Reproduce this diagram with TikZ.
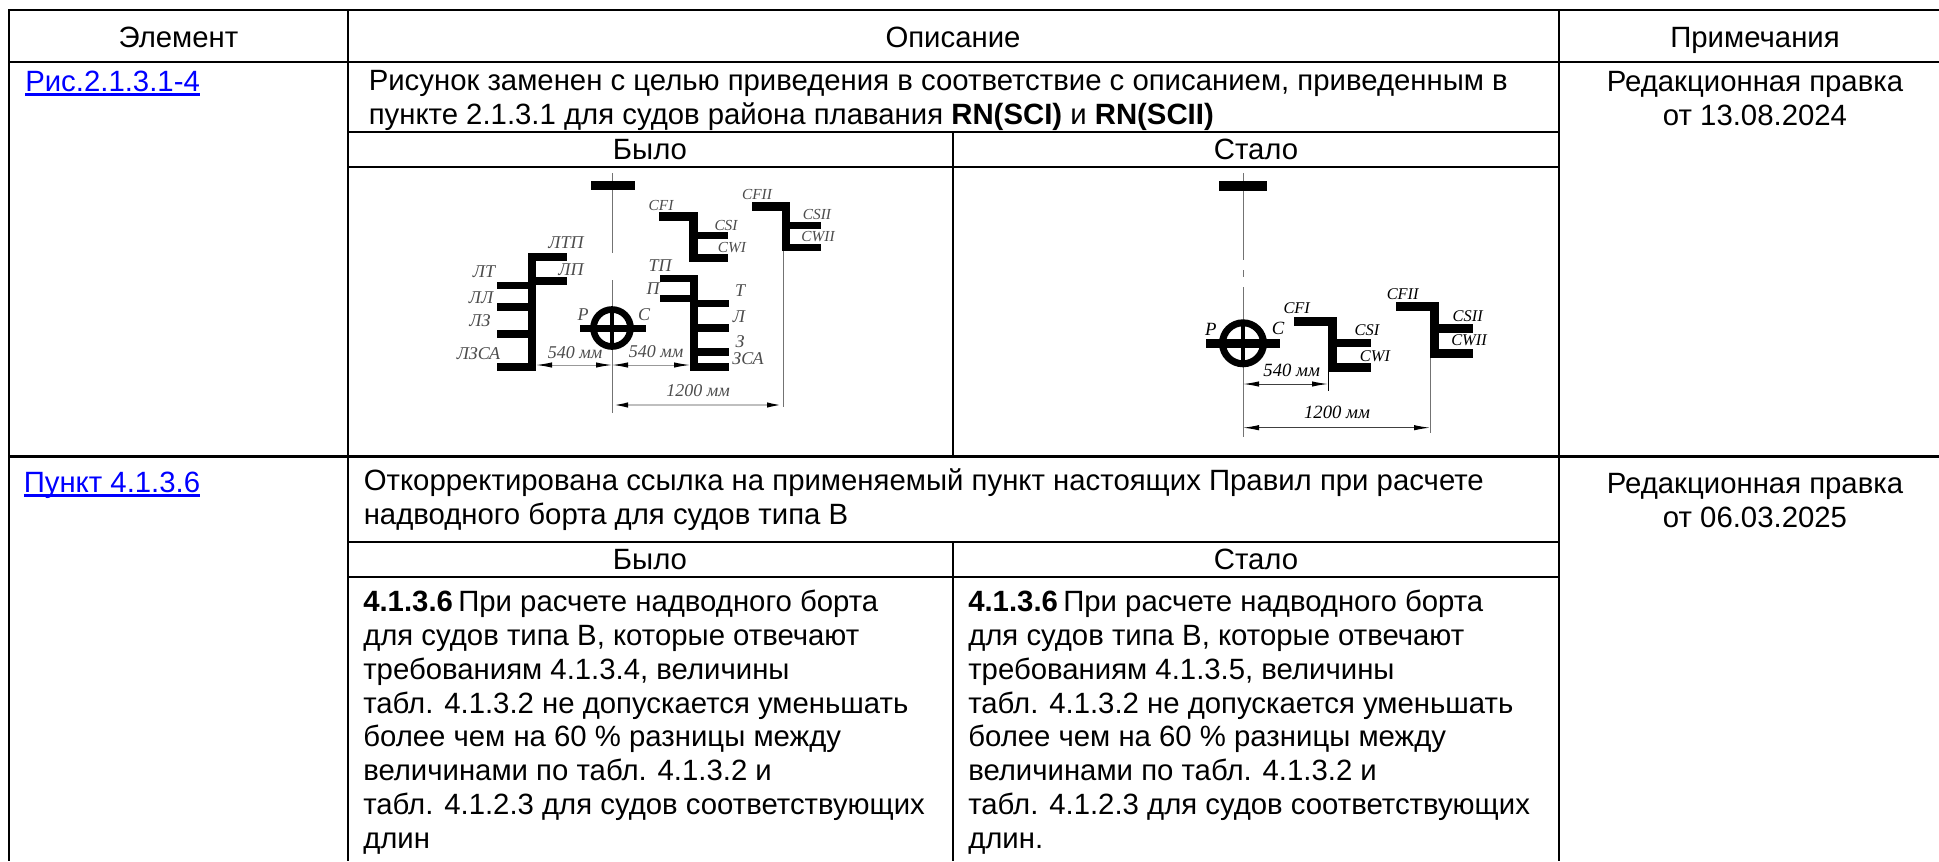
\documentclass[tikz,border=0pt]{standalone}
\usepackage{fontspec}
\setmainfont{Liberation Sans}
\newfontfamily\sketchfont{Liberation Serif}
\usetikzlibrary{arrows.meta}

\tikzset{
  cell/.style={anchor=base west,inner sep=0pt,align=left,font=\fontsize{22}{25.4}\selectfont},
  head/.style={anchor=base,inner sep=0pt,align=center,font=\fontsize{22}{25.4}\selectfont},
  grid/.style={line width=1.7pt},
  bar/.style={line width=0pt,fill=black},
  lbl/.style={inner sep=0pt,font=\sketchfont\itshape\fontsize{14}{14}\selectfont},
  lbllat/.style={lbl,font=\sketchfont\itshape\fontsize{12.3}{12.3}\selectfont},
  lblold/.style={lbl,text=black!70,font=\sketchfont\itshape\fontsize{13.5}{13.5}\selectfont},
  lbloldlat/.style={lbl,text=black!70,font=\sketchfont\itshape\fontsize{11.5}{11.5}\selectfont},
  dimline/.style={line width=0.75pt,{Latex[length=12,width=4,black]}-{Latex[length=12,width=4,black]}},
  axis/.style={line width=0.75pt,color=black!55}
}
\newcommand{\barat}[4]{\path[bar] (#1,#2) rectangle (#3,#4);}
\newcommand{\linktext}[1]{\setbox0\hbox{#1}\rlap{\rule[-3.7pt]{\wd0}{2.2pt}}\box0}

\begin{document}
\begin{tikzpicture}[x=0.75pt,y=0.75pt,yscale=-1,xscale=1]
\useasboundingbox (0,0) rectangle (1939,861);

%Table grid
\draw[grid] (1939,10) -- (9,10) -- (9,861);
\draw[grid] (9,62) -- (1939,62);
\draw[grid] (9,456.5) -- (1939,456.5);
\draw[grid] (348,10) -- (348,861);
\draw[grid] (1559,10) -- (1559,861);
\draw[grid] (348,132) -- (1559,132);
\draw[grid] (348,167) -- (1559,167);
\draw[grid] (348,542) -- (1559,542);
\draw[grid] (348,577) -- (1559,577);
\draw[grid] (953,132) -- (953,456.5);
\draw[grid] (953,542) -- (953,861);

% Text Node
\draw (178.5,47) node (elem) [head] {Элемент};
\draw (953,47) node (descr) [head] {Описание};
\draw (1755,47) node (notes) [head] {Примечания};
\draw (25,91) node (linkfig) [cell,text=blue] {\linktext{Рис.2.1.3.1-4}};
\draw (23.5,492) node (linkitem) [cell,text=blue] {\linktext{Пункт 4.1.3.6}};
\draw (368.5,124.5) node (descrfig) [cell] {Рисунок заменен с целью приведения в соответствие с описанием, приведенным в\\пункте 2.1.3.1 для судов района плавания \textbf{RN(SCI)} и \textbf{RN(SCII)}};
\draw (363.5,524.3) node (descritem) [cell] {Откорректирована ссылка на применяемый пункт настоящих Правил при расчете\\надводного борта для судов типа В};
\draw (650,159) node (wasfig) [head] {Было};
\draw (1256,159) node (nowfig) [head] {Стало};
\draw (650,569) node (wasitem) [head] {Было};
\draw (1256,569) node (nowitem) [head] {Стало};
\draw (1755,125) node (notefig) [head] {Редакционная правка\\от 13.08.2024};
\draw (1755,527) node (noteitem) [head] {Редакционная правка\\от 06.03.2025};
\draw (363,848.5) node (wastext) [cell] {\textbf{4.1.3.6}\hspace{4pt}При расчете надводного борта\\для судов типа В, которые отвечают\\требованиям 4.1.3.4, величины\\табл. 4.1.3.2 не допускается уменьшать\\более чем на 60 \% разницы между\\величинами по табл. 4.1.3.2 и\\табл. 4.1.2.3 для судов соответствующих\\длин};
\draw (968,848.5) node (nowtext) [cell] {\textbf{4.1.3.6}\hspace{4pt}При расчете надводного борта\\для судов типа В, которые отвечают\\требованиям 4.1.3.5, величины\\табл. 4.1.3.2 не допускается уменьшать\\более чем на 60 \% разницы между\\величинами по табл. 4.1.3.2 и\\табл. 4.1.2.3 для судов соответствующих\\длин.};

%Old sketch: centre line and dimensions
\coordinate (oldtop) at (612,173);
\coordinate (oldgapa) at (612,253);
\coordinate (oldgapb) at (612,280);
\coordinate (oldbot) at (612,413);
\coordinate (oldleft) at (536,365);
\coordinate (oldmid) at (612,365);
\coordinate (oldright) at (690,365);
\coordinate (olddima) at (612,405);
\coordinate (olddimb) at (783,405);
\coordinate (oldexta) at (783,251);
\coordinate (oldextb) at (783,407);
\draw[axis] (oldtop) -- (oldgapa);
\draw[axis] (oldgapb) -- (oldbot);
\draw[axis] (oldexta) -- (oldextb);
\draw[dimline,color=black!40] (oldleft) -- (oldmid);
\draw[dimline,color=black!40] (oldmid) -- (oldright);
\draw[dimline,color=black!25,line width=1.5pt] (olddima) -- (olddimb);

%Old sketch: bars
\barat{591}{181}{635}{190}
\barat{659}{212}{697.5}{221}
\barat{689}{212}{697.5}{262}
\barat{697}{232}{728}{239}
\barat{689}{254}{728}{262}
\barat{752}{202}{790}{211}
\barat{782}{202}{790}{251}
\barat{790}{222}{821}{229}
\barat{782}{244}{821}{251}
\barat{527.5}{253}{536}{371}
\barat{527.5}{253}{567}{261}
\barat{536}{277}{567}{285}
\barat{497}{282}{527.5}{289}
\barat{497}{303}{527.5}{311}
\barat{497}{330}{527.5}{338}
\barat{497}{363}{527.5}{371}
\barat{690}{275}{698}{371}
\barat{660}{275}{698}{282}
\barat{660}{295}{690}{302}
\barat{698}{300}{728.5}{307}
\barat{698}{324}{728.5}{332}
\barat{698}{348}{728.5}{356}
\barat{698}{363}{728.5}{371}
\barat{580}{325}{646}{332}
\barat{610}{308}{614}{348}
\draw[line width=5pt] (612,328) circle (18.5);

%New sketch: centre line and dimensions
\coordinate (newtop) at (1243,173);
\coordinate (newgapa) at (1243,260);
\coordinate (newgapb) at (1243,270);
\coordinate (newgapc) at (1243,277);
\coordinate (newgapd) at (1243,287);
\coordinate (newbot) at (1243,437);
\coordinate (newmid) at (1243,384);
\coordinate (newright) at (1328,384);
\coordinate (newdima) at (1243,427.7);
\coordinate (newdimb) at (1430,427.7);
\coordinate (newexta) at (1328,372);
\coordinate (newextb) at (1328,391);
\coordinate (newextc) at (1430,357.7);
\coordinate (newextd) at (1430,433);
\draw[axis] (newtop) -- (newgapa);
\draw[axis] (newgapb) -- (newgapc);
\draw[axis] (newgapd) -- (newbot);
\draw[axis,color=black] (newexta) -- (newextb);
\draw[axis] (newextc) -- (newextd);
\draw[dimline,color=black!75] (newmid) -- (newright);
\draw[dimline,color=black!75] (newdima) -- (newdimb);

%New sketch: bars
\barat{1219}{181}{1267.3}{191}
\barat{1294}{316.7}{1337}{325.7}
\barat{1328}{316.7}{1337}{372}
\barat{1337}{338.7}{1371}{347.3}
\barat{1328}{363}{1371}{372}
\barat{1395.7}{302}{1438.7}{311}
\barat{1430}{302}{1438.7}{357.7}
\barat{1439}{324}{1472.7}{333}
\barat{1430}{349}{1472.7}{357.7}
\barat{1206}{339}{1280}{348}
\barat{1241}{320}{1245}{367}
\draw[line width=5.25pt] (1243,343.3) circle (20.5);

% Text Node
\draw (566,243) node (oldltp) [lblold] {ЛТП};
\draw (571,270) node (oldlp) [lblold] {ЛП};
\draw (484,272) node (oldlt) [lblold] {ЛТ};
\draw (481,298) node (oldll) [lblold] {ЛЛ};
\draw (480,321) node (oldlz) [lblold] {ЛЗ};
\draw (478.5,354) node (oldlzsa) [lblold] {ЛЗСА};
\draw (583,315) node (oldp) [lblold] {P};
\draw (644,315) node (oldc) [lblold] {C};
\draw (575,353) node (olddiml) [lblold] {540 мм};
\draw (656,352) node (olddimr) [lblold] {540 мм};
\draw (698,391) node (olddimw) [lblold] {1200 мм};
\draw (661,205) node (oldcfi) [lbloldlat] {CFI};
\draw (726,225) node (oldcsi) [lbloldlat] {CSI};
\draw (732,248) node (oldcwi) [lbloldlat] {CWI};
\draw (757,194) node (oldcfii) [lbloldlat] {CFII};
\draw (817,214) node (oldcsii) [lbloldlat] {CSII};
\draw (818,237) node (oldcwii) [lbloldlat] {CWII};
\draw (660,266) node (oldtp) [lblold] {ТП};
\draw (653,289) node (oldpp) [lblold] {П};
\draw (740,291) node (oldt) [lblold] {Т};
\draw (739,317) node (oldl) [lblold] {Л};
\draw (740,342) node (oldz) [lblold] {З};
\draw (748,359) node (oldzsa) [lblold] {ЗСА};

\draw (1210.7,329) node (newp) [lbl] {P};
\draw (1278,328) node (newc) [lbl] {C};
\draw (1296.7,307.7) node (newcfi) [lbllat] {CFI};
\draw (1367,330) node (newcsi) [lbllat] {CSI};
\draw (1375,355.7) node (newcwi) [lbllat] {CWI};
\draw (1291.7,370) node (newdiml) [lbl] {540 мм};
\draw (1337,412) node (newdimw) [lbl] {1200 мм};
\draw (1402.7,294) node (newcfii) [lbllat] {CFII};
\draw (1467.7,316) node (newcsii) [lbllat] {CSII};
\draw (1469,340) node (newcwii) [lbllat] {CWII};

\end{tikzpicture}
\end{document}
